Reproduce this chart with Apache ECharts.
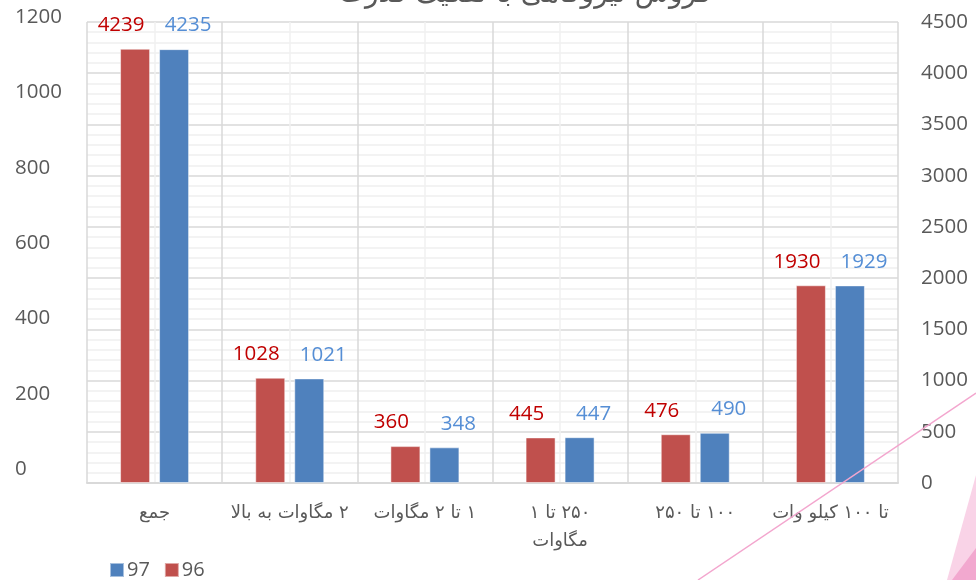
<!DOCTYPE html>
<html>
<head>
<meta charset="utf-8">
<script src="https://cdn.jsdelivr.net/npm/echarts@6/dist/echarts.min.js"></script>
<style>
html, body { margin: 0; padding: 0; background: #fff; }
#chart { width: 976px; height: 580px; }
</style>
</head>
<body>
<div id="chart" dir="rtl"></div>
<script>
// categories, left to right
var categories = ['جمع', '۲ مگاوات به بالا', '۱ تا ۲ مگاوات', '۲۵۰ تا ۱\nمگاوات', '۱۰۰ تا ۲۵۰', 'تا ۱۰۰ کیلو وات'];
var seriesNames = ['96', '97'];
var values96 = [4239, 1028, 360, 445, 476, 1930];
var values97 = [4235, 1021, 348, 447, 490, 1929];
var title = 'فروش نیروگاهی با تفکیک قدرت';

var gray = '#595959';
var numFont = '"Open Sans", sans-serif';
var plain = function (v) { return String(v); };

var chart = echarts.init(document.getElementById('chart'));
chart.setOption({
	animation: false,
	backgroundColor: '#fff',
	graphic: [
		{
			type: 'text', x: 525, y: -5, z: 10,
			style: { text: title, fontSize: 28, fontFamily: 'DejaVu Sans', fill: gray, align: 'center', verticalAlign: 'middle' }
		},
		{
			type: 'polygon', z: 0,
			shape: { points: [[947, 580], [976, 475], [976, 580]] },
			style: { fill: '#F9D3E7' }
		},
		{
			type: 'polygon', z: 0,
			shape: { points: [[952, 580], [976, 548], [976, 580]] },
			style: { fill: '#F2A8CF' }
		},
		{
			type: 'line', z: 10,
			shape: { x1: 698, y1: 580, x2: 976, y2: 393 },
			style: { stroke: '#F3A6CE', lineWidth: 1.5 }
		}
	],
	legend: {
		data: ['97', '96'],
		left: 104,
		top: 555,
		icon: 'rect',
		itemWidth: 14,
		itemHeight: 14,
		itemGap: 14,
		textStyle: { color: gray, fontSize: 20, fontFamily: numFont, padding: [0, 0, 0, -2] }
	},
	grid: [
		{ left: 87, right: 78, top: 22, bottom: 97 },
		{ left: 87, right: 78, top: 17, bottom: 111 }
	],
	xAxis: [
		{
			type: 'category',
			gridIndex: 0,
			data: categories,
			axisLine: { lineStyle: { color: '#D9D9D9', width: 2 } },
			axisTick: { show: false },
			splitLine: { show: false },
			axisLabel: {
				interval: 0, color: gray, fontSize: 18, lineHeight: 28,
				fontFamily: 'DejaVu Sans', margin: 16
			}
		},
		{
			// vertical gridlines: category edges and centres
			type: 'value',
			gridIndex: 0,
			position: 'top',
			min: 0, max: 12, interval: 1,
			axisLine: { show: false },
			axisTick: { show: false },
			axisLabel: { show: false },
			splitLine: { show: true, lineStyle: { color: ['#D9D9D9', '#F0F0F0'], width: 1.5 } }
		},
		{
			type: 'value', gridIndex: 1, show: false, min: 0, max: 1
		}
	],
	yAxis: [
		{
			type: 'value',
			gridIndex: 0,
			position: 'right',
			min: 0, max: 4500, interval: 500,
			axisLine: { show: false },
			axisTick: { show: false },
			axisLabel: { color: gray, fontSize: 20.5, fontFamily: numFont, margin: 23, formatter: plain },
			splitLine: { lineStyle: { color: '#D9D9D9', width: 1.5 } },
			minorTick: { show: false, splitNumber: 5 },
			minorSplitLine: { show: true, lineStyle: { color: '#F0F0F0', width: 1.5 } }
		},
		{
			type: 'value',
			gridIndex: 1,
			position: 'left',
			min: 0, max: 1200, interval: 200,
			axisLine: { show: false },
			axisTick: { show: false },
			splitLine: { show: false },
			axisLabel: { color: gray, fontSize: 20.5, fontFamily: numFont, align: 'left', margin: 72, formatter: plain }
		}
	],
	series: [
		{
			name: seriesNames[0],
			type: 'bar',
			xAxisIndex: 0, yAxisIndex: 0,
			data: values96,
			barWidth: 30,
			barGap: '30%',
			itemStyle: { color: '#C0504D', borderColor: 'rgba(255,255,255,0.5)', borderWidth: 1 },
			label: { show: true, position: 'top', distance: 13, offset: [-14, 0], color: '#C00000', fontSize: 20.5, fontFamily: numFont }
		},
		{
			name: seriesNames[1],
			type: 'bar',
			xAxisIndex: 0, yAxisIndex: 0,
			data: values97,
			barWidth: 30,
			barGap: '30%',
			itemStyle: { color: '#4F81BD', borderColor: 'rgba(255,255,255,0.5)', borderWidth: 1 },
			label: { show: true, position: 'top', distance: 13, offset: [14, 0], color: '#558ED5', fontSize: 20.5, fontFamily: numFont }
		}
	]
});
</script>
</body>
</html>
